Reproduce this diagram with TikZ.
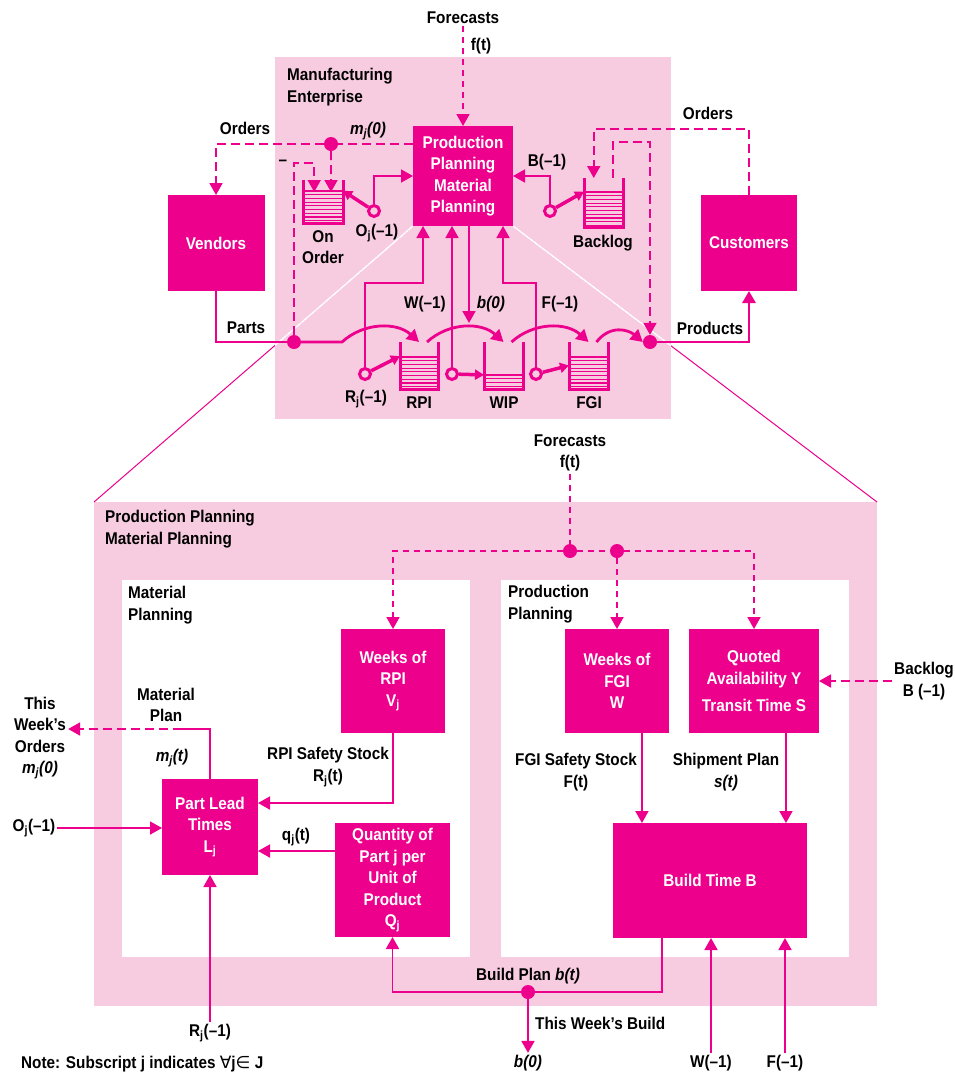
\documentclass[tikz,border=0pt]{standalone}
\usepackage{fontspec}
\setmainfont{Liberation Sans}[FakeStretch=0.9]
\newfontfamily\dvsym{DejaVu Sans}
\usepackage{tikz}
\usetikzlibrary{arrows.meta, calc, positioning}
\definecolor{mag}{RGB}{236,0,140}
\definecolor{rosa}{RGB}{248,204,224}
\newcommand{\lblfont}{\fontsize{17}{21.5}\selectfont\bfseries}

\tikzset{
  bg/.style={fill=rosa, draw=none, inner sep=0pt, outer sep=0pt},
  wbox/.style={fill=white, draw=none, inner sep=0pt, outer sep=0pt},
  box/.style={fill=mag, text=white, inner sep=0pt, outer sep=0pt, align=center, font=\lblfont},
  lbl/.style={text=black, inner sep=2pt, align=center, font=\lblfont},
  buf/.style={rectangle, draw=none, inner sep=0pt, outer sep=0pt},
  wall/.style={draw=mag, line width=3pt, line join=miter},
  conn/.style={draw=mag, line width=1.8pt},
  dashconn/.style={conn, dash pattern=on 9pt off 5pt},
  fcdash/.style={conn, dash pattern=on 6pt off 5pt},
  flow/.style={draw=mag, line width=2.8pt},
  vline/.style={draw=mag, line width=3.5pt, -{Triangle[length=9pt,width=10pt]}},
  dot/.style={circle, fill=mag, minimum size=14pt, inner sep=0pt},
  valve/.style={circle, draw=mag, line width=3pt, minimum size=11pt, inner sep=0pt},
}

\begin{document}
\begin{tikzpicture}[x=1pt, y=-1pt, line cap=butt, >={Triangle[length=12pt,width=13pt]}]
  \useasboundingbox (0,0) rectangle (954,1074);

  %--- backgrounds
  \node[bg, minimum width=396pt, minimum height=362pt] (mfg) at (473,238) {};
  \node[bg, minimum width=783pt, minimum height=504pt] (ppmbig) at (485.5,754) {};
  \node[wbox, minimum width=348pt, minimum height=377pt] (matbox) at (296,768.5) {};
  \node[wbox, minimum width=348pt, minimum height=377pt] (prodbox) at (675,768.5) {};

  %--- top boxes
  \node[box, minimum width=100pt, minimum height=100pt] (ppm) at (463,176) {Production\\Planning\\Material\\Planning};
  \node[box, minimum width=97pt, minimum height=96pt] (vend) at (216,243) {Vendors};
  \node[box, minimum width=96pt, minimum height=96pt] (cust) at (749,243) {Customers};

  %--- zoom lines
  \draw[mag, line width=1pt] (ppm.south west) -- (ppmbig.north west);
  \draw[mag, line width=1pt] (ppm.south east) -- (ppmbig.north east);
  \begin{scope}
    \clip (mfg.north west) rectangle (mfg.south east);
    \draw[white, line width=1.6pt] (ppm.south west) -- (ppmbig.north west);
    \draw[white, line width=1.6pt] (ppm.south east) -- (ppmbig.north east);
  \end{scope}

  %--- top labels
  \node[lbl, anchor=west, align=left] (mfgT) at (285,87) {Manufacturing\\Enterprise};
  \node[lbl] (fcTop) at (463,18) {Forecasts};
  \node[lbl] (ftTop) at (481,46) {f(t)};
  \node[lbl] (ordL) at (245,128) {Orders};
  \node[lbl] (mj0) at (368,131) {\itshape m\textsubscript{j}(0)};
  \node[lbl] (minus) at (283,163) {--};
  \node[lbl] (onordT) at (323,247) {On\\Order};
  \node[lbl] (oj1) at (377,233) {O\textsubscript{j}(--1)};
  \node[lbl] (bm1) at (547,162) {B(--1)};
  \node[lbl] (backlT) at (603,243) {Backlog};
  \node[lbl] (ordR) at (708,113) {Orders};
  \node[lbl] (wm1top) at (425,304) {W(--1)};
  \node[lbl] (b0top) at (491,304) {\itshape b(0)};
  \node[lbl] (fm1top) at (560,304) {F(--1)};
  \node[lbl] (partsT) at (246,328) {Parts};
  \node[lbl] (prodT) at (710,328) {Products};
  \node[lbl] (rj1top) at (366,399) {R\textsubscript{j}(--1)};
  \node[lbl] (rpiT) at (419,403) {RPI};
  \node[lbl] (wipT) at (504,403) {WIP};
  \node[lbl] (fgiT) at (589,403) {FGI};

  %--- buffers, valves, dots
  \node[buf, minimum width=40pt, minimum height=43pt] (onord) at (323,201.5) {};
  \node[buf, minimum width=39pt, minimum height=49pt] (backl) at (603.5,202.5) {};
  \node[buf, minimum width=38pt, minimum height=47pt] (rpi) at (419,365.5) {};
  \node[buf, minimum width=39pt, minimum height=47pt] (wip) at (503.5,365.5) {};
  \node[buf, minimum width=39pt, minimum height=47pt] (fgi) at (588.5,365.5) {};
  \foreach \b/\s in {onord/11, backl/14, rpi/15, wip/33, fgi/15}{
    \begin{scope}
      \clip (\b.north west) rectangle (\b.south east);
      \foreach \k in {0,...,12}
        \draw[mag, line width=1.2pt] ($(\b.north west)+(0,\s+\k*3.7)$) -- ++(45,0);
    \end{scope}
    \draw[mag, line width=2.4pt] ($(\b.north west)+(0,\s)$) -- ($(\b.north east)+(0,\s)$);
    \draw[wall] (\b.north west) -- (\b.south west) -- (\b.south east) -- (\b.north east);
  }

  \node[valve] (vOO) at (374,211) {};
  \node[valve] (vBL) at (550,211) {};
  \node[valve] (vR) at (365,374) {};
  \node[valve] (vW) at (452,374) {};
  \node[valve] (vF) at (536,374) {};

  \node[dot] (dotm) at (331,144) {};
  \node[dot] (dotp) at (294,342) {};
  \node[dot] (dotq) at (650,342) {};

  %--- forecasts and orders
  \draw[fcdash,->] (fcTop.south) -- (ppm.north);
  \draw[dashconn] (ppm.west |- dotm) -- (dotm);
  \draw[dashconn,->] (dotm) -| (vend.north);
  \coordinate (ooIn1) at ($(onord.north west)!0.28!(onord.north east)+(0,12)$);
  \coordinate (ooIn2) at ($(onord.north west)!0.7!(onord.north east)+(0,12)$);
  \draw[dashconn,->] (dotm) -- (ooIn2);
  \draw[dashconn,->] (dotp) -- ++(0,-179) -| (ooIn1);

  \coordinate (blIn) at ($(backl.north west)!0.25!(backl.north east)$);
  \coordinate (blOut) at ($(backl.north west)!0.74!(backl.north east)$);
  \draw[dashconn,->] (cust.north) -- ++(0,-66) -| (blIn);
  \draw[dashconn,->] (blOut) -- ++(0,-36) -| (dotq.north);

  %--- valves
  \draw[vline] (vOO) -- ($(onord.north east)!0.25!(onord.south east)$);
  \draw[vline] (vBL) -- ($(backl.north west)!0.28!(backl.south west)$);
  \draw[vline] (vR) -- ($(rpi.north west)!0.3!(rpi.south west)$);
  \draw[vline] (vW) -- ($(wip.north west)!0.7!(wip.south west)$);
  \draw[vline] (vF) -- ($(fgi.north west)!0.5!(fgi.south west)$);

  \coordinate (inR) at ($(ppm.south west)!0.1!(ppm.south east)$);
  \coordinate (outB) at ($(ppm.south west)!0.56!(ppm.south east)$);
  \coordinate (inF) at ($(ppm.south west)!0.9!(ppm.south east)$);
  \draw[conn,->] (vOO.north) |- (ppm.west);
  \draw[conn,->] (vBL.north) |- (ppm.east);
  \draw[conn,->] (vR.north) -- ++(0,-84) -| (inR);
  \draw[conn,->] (vW.north) -- (vW.north |- ppm.south);
  \draw[conn,->] (outB) -- ++(0,97);
  \draw[conn,->] (vF.north) -- ++(0,-84) -| (inF);

  %--- material flow
  \draw[flow] (vend.south) |- (dotp);
  \draw[flow,->] (dotp) -- ++(48,0) .. controls +(22,-20) and +(-22,-20) .. (rpi.north);
  \draw[flow,->] ($(rpi.north)+(8,0)$) .. controls +(22,-20) and +(-22,-20) .. (wip.north);
  \draw[flow,->] ($(wip.north)+(8,0)$) .. controls +(22,-20) and +(-22,-20) .. (fgi.north);
  \draw[flow,->] ($(fgi.north)+(8,0)$) .. controls +(14,-18) and +(-14,-12) .. (dotq.west);
  \draw[flow,->] (dotq) -| (cust.south);

  %--- bottom titles
  \node[lbl, anchor=west, align=left] (ppmT) at (103,529) {Production Planning\\Material Planning};
  \node[lbl, anchor=west, align=left] (matT) at (126,605) {Material\\Planning};
  \node[lbl, anchor=west, align=left] (prodT2) at (506,604) {Production\\Planning};
  \node[lbl] (fcBot) at (570,453) {Forecasts\\f(t)};

  %--- bottom boxes
  \node[box, minimum width=104pt, minimum height=104pt] (wRPI) at (393,681) {Weeks of\\RPI\\V\textsubscript{j}};
  \node[box, minimum width=96pt, minimum height=96pt] (plt) at (210,827) {Part Lead\\Times\\L\textsubscript{j}};
  \node[box, minimum width=115pt, minimum height=114pt] (qty) at (392.5,880) {Quantity of\\Part j per\\Unit of\\Product\\Q\textsubscript{j}};
  \node[box, minimum width=104pt, minimum height=104pt] (wFGI) at (617,681) {Weeks of\\FGI\\W};
  \node[box, minimum width=130pt, minimum height=104pt] (quot) at (754,681) {Quoted\\Availability Y\\[6pt]Transit Time S};
  \node[box, minimum width=194pt, minimum height=115pt] (build) at (710,880.5) {Build Time B};

  %--- bottom labels
  \node[lbl] (twOrd) at (40,738) {This\\Week's\\Orders\\{\itshape m\textsubscript{j}(0)}};
  \node[lbl] (mpT) at (166,705) {Material\\Plan};
  \node[lbl] (mjt) at (172,758) {\itshape m\textsubscript{j}(t)};
  \node[lbl] (rpiSS) at (328,767) {RPI Safety Stock\\R\textsubscript{j}(t)};
  \node[lbl] (qjt) at (296,837) {q\textsubscript{j}(t)};
  \node[lbl] (ojm) at (34,828) {O\textsubscript{j}(--1)};
  \node[lbl] (rjm) at (210,1033) {R\textsubscript{j}(--1)};
  \node[lbl] (fgiSS) at (576,772) {FGI Safety Stock\\F(t)};
  \node[lbl] (shipT) at (726,772) {Shipment Plan\\{\itshape s(t)}};
  \node[lbl] (blg) at (924,681) {Backlog\\B (--1)};
  \node[lbl] (bplan) at (528,976) {Build Plan {\itshape b(t)}};
  \node[lbl, anchor=west] (twBuild) at (533,1023) {This Week's Build};
  \node[lbl] (b0) at (528,1063) {\itshape b(0)};
  \node[lbl] (wm) at (711,1063) {W(--1)};
  \node[lbl] (fm) at (785,1063) {F(--1)};
  \node[lbl, anchor=base west] (note) at (19,1068) {Note: Subscript j indicates {\dvsym\mdseries ∀}j{\dvsym\mdseries ∈} J};

  \node[dot] (dotf1) at (570,551) {};
  \node[dot] (dotf2) at (617,551) {};
  \node[dot] (dotb) at (528,992) {};

  %--- forecasts to the planning boxes
  \draw[fcdash] (fcBot.south) -- (dotf1);
  \draw[fcdash] (dotf1) -- (dotf2);
  \draw[fcdash,->] (dotf1) -| (wRPI.north);
  \draw[fcdash,->] (dotf2) -- (wFGI.north);
  \draw[fcdash,->] (dotf2) -| (quot.north);

  %--- material planning
  \coordinate (pltR) at ($(plt.north east)!0.25!(plt.south east)$);
  \coordinate (pltQ) at ($(plt.north east)!0.75!(plt.south east)$);
  \draw[conn,->] (wRPI.south) |- (pltR);
  \draw[conn,->] (qty.west |- pltQ) -- (pltQ);
  \draw[conn,->] (ojm.east) -- (plt.west |- ojm.east);
  \draw[conn,->] (rjm.north) -- (plt.south);
  \coordinate (mpc) at ($(plt.north)+(0,-50)$);
  \draw[conn] (plt.north) -- (mpc) -- ++(-28,0) coordinate (mpd);
  \draw[dashconn,->] (mpd) -- (twOrd.east |- mpc);

  %--- production planning
  \coordinate (fgiOut) at ($(wFGI.south west)!0.74!(wFGI.south east)$);
  \coordinate (qOut) at ($(quot.south west)!0.746!(quot.south east)$);
  \draw[conn,->] (fgiOut) -- (fgiOut |- build.north);
  \draw[conn,->] (qOut) -- (qOut |- build.north);
  \draw[dashconn,->] (blg.west) -- (quot.east |- blg.west);

  \coordinate (bOut) at ($(build.south west)!0.253!(build.south east)$);
  \draw[conn,->] (bOut) |- (dotb) -| (qty.south);
  \draw[conn,->] (dotb) -- (b0.north);
  \draw[conn,->] (wm.north) -- (wm.north |- build.south);
  \draw[conn,->] (fm.north) -- (fm.north |- build.south);
\end{tikzpicture}
\end{document}
